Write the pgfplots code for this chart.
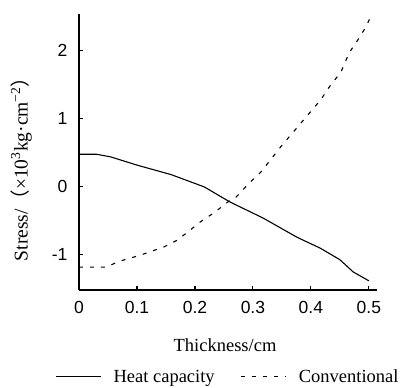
\documentclass[border=0pt]{standalone}
\usepackage{pgfplots}
\pgfplotsset{compat=1.18}
\usepackage{fontspec}
\setmainfont{Liberation Serif}
\setsansfont{Liberation Sans}
\newfontfamily\cjk{Noto Sans CJK SC}
\begin{document}
\begin{tikzpicture}
\useasboundingbox (-79pt,-98pt) rectangle (328pt,290pt);
\begin{axis}[
  at={(0,0)}, anchor=south west,
  scale only axis, width=298pt, height=276pt,
  xmin=0, xmax=0.514, ymin=-1.515, ymax=2.54,
  axis lines=left,
  axis line style={-, line width=1.3pt},
  tick align=inside,
  major tick length=4pt,
  tick style={line width=1.1pt, black},
  xtick={0,0.1,0.2,0.3,0.4,0.5},
  ytick={-1,0,1,2},
  /pgf/number format/assume math mode=true,
  xticklabel style={font=\sffamily\fontsize{17.5}{17.5}\selectfont, yshift=-8pt, /pgf/number format/fixed},
  yticklabel style={font=\sffamily\fontsize{17.5}{17.5}\selectfont, xshift=-8pt},
  xlabel={Thickness/cm},
  ylabel={Stress/{\cjk （}×10\textsuperscript{3}kg·cm\textsuperscript{−2}{\cjk ）}},
  label style={font=\fontsize{18.5}{18.5}\selectfont},
  xlabel style={at={(axis description cs:0.49,-0.199)}, anchor=center},
  ylabel style={at={(axis description cs:-0.193,0.455)}, anchor=center, font=\fontsize{19.5}{19.5}\selectfont},
  legend columns=2,
  legend style={at={(axis description cs:0.5,-0.315)}, anchor=center, draw=none, fill=none,
    font=\fontsize{18.5}{18.5}\selectfont,
    /tikz/every odd column/.append style={column sep=10pt},
    /tikz/every even column/.append style={column sep=24pt}},
  legend image code/.code={\draw[#1] (0pt,0pt) -- (45pt,0pt);},
]
\addplot[black, line width=1.1pt] coordinates {
(0,0.48) (0.03,0.48) (0.055,0.44) (0.1,0.32) (0.159,0.18) (0.216,0.0)
(0.26,-0.22) (0.318,-0.46) (0.376,-0.74) (0.416,-0.9) (0.45,-1.07)
(0.473,-1.25) (0.5,-1.38)
};
\addlegendentry{Heat capacity}
\addplot[black, line width=1.1pt, dash pattern=on 4pt off 7pt] coordinates {
(0,-1.18) (0.047,-1.18) (0.067,-1.1) (0.107,-1.0) (0.147,-0.88) (0.17,-0.78)
(0.188,-0.66) (0.21,-0.51) (0.233,-0.38) (0.257,-0.22) (0.271,-0.15)
(0.294,0.06) (0.314,0.22) (0.348,0.59) (0.383,0.94) (0.417,1.28)
(0.431,1.46) (0.452,1.69) (0.466,1.97) (0.481,2.16) (0.495,2.35) (0.503,2.5)
};
\addlegendentry{Conventional}
\end{axis}
\end{tikzpicture}
\end{document}
